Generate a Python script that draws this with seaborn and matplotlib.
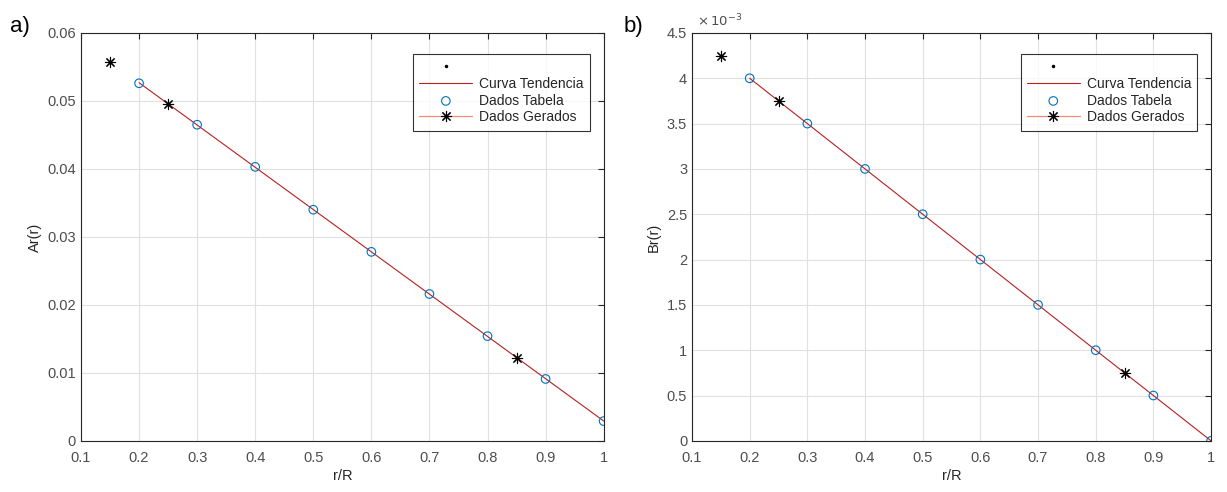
import numpy as np
import pandas as pd
import matplotlib
matplotlib.use("Agg")
import matplotlib.pyplot as plt
import seaborn as sns
from matplotlib.ticker import FuncFormatter, MultipleLocator

# values
r_tab = [0.2, 0.3, 0.4, 0.5, 0.6, 0.7, 0.8, 0.9, 1.0]
ar_tab = [0.0526, 0.0465, 0.0403, 0.0340, 0.0278, 0.0216, 0.0154, 0.0091, 0.0029]
br_tab = [0.0040, 0.0035, 0.0030, 0.0025, 0.0020, 0.0015, 0.0010, 0.0005, 0.0000]
r_gen = [0.15, 0.25, 0.85]
ar_gen = [0.0557, 0.0496, 0.0122]
br_gen = [0.00425, 0.00375, 0.00075]

sns.set_style("white")
plt.rcParams['font.family'] = ['Liberation Sans', 'DejaVu Sans']

blue = (0.0, 0.447, 0.741)
red = (0.72, 0.12, 0.12)
gray = (0.15, 0.15, 0.15)
star = (8, 2, 0)

fig = plt.figure(figsize=(12.27, 4.92), dpi=100)
ax1 = fig.add_axes([0.066, 0.104, 0.426, 0.829])
ax2 = fig.add_axes([0.564, 0.104, 0.423, 0.829])


def draw(ax, y_tab, y_gen, ylabel):
    tab = pd.DataFrame({"r": r_tab, "v": y_tab})
    gen = pd.DataFrame({"r": r_gen, "v": y_gen})
    # trend line through the table points
    c = np.polyfit(tab["r"], tab["v"], 1)
    trend = pd.DataFrame({"r": r_tab, "v": np.polyval(c, r_tab)})
    ax.plot([], [], ".", color="black", markersize=3, label=" ")
    sns.lineplot(data=trend, x="r", y="v", ax=ax, color=red, lw=0.8,
                 label="Curva Tendencia")
    sns.scatterplot(data=tab, x="r", y="v", ax=ax, marker="o", s=38,
                    facecolor="none", edgecolor=blue, linewidth=0.8,
                    label="Dados Tabela", zorder=3)
    sns.scatterplot(data=gen, x="r", y="v", ax=ax, marker=star, s=55,
                    color="black", linewidth=0.8, label="_nolegend_", zorder=4)
    # legend proxy for Dados Gerados (line with star)
    ax.plot([], [], color=(0.95, 0.55, 0.45), lw=0.9, marker=star,
            markersize=8, markeredgecolor="black", markeredgewidth=0.8,
            label="Dados Gerados")
    ax.set_xlim(0.1, 1.0)
    ax.xaxis.set_major_locator(MultipleLocator(0.1))
    ax.xaxis.set_major_formatter(FuncFormatter(lambda v, p: f"{v:g}"))
    ax.set_xlabel("r/R", fontsize=10.5, color=gray, labelpad=3)
    ax.set_ylabel(ylabel, fontsize=10.5, color=gray, labelpad=4)
    ax.grid(True, color=(0.88, 0.88, 0.88), lw=0.8)
    ax.tick_params(direction="in", top=True, right=True, length=4,
                   labelsize=10.5, colors=gray, labelcolor=(0.3, 0.3, 0.3))
    ax.tick_params(axis="x", pad=7)
    for s in ax.spines.values():
        s.set_color(gray)
        s.set_linewidth(0.8)
    leg = ax.legend(loc="upper right", bbox_to_anchor=(0.987, 0.966),
                    fontsize=10, frameon=True, fancybox=False,
                    edgecolor="black", handlelength=3.8, borderpad=0.45,
                    labelspacing=0.2, handletextpad=0.5)
    leg.get_frame().set_linewidth(0.8)


draw(ax1, ar_tab, ar_gen, "Ar(r)")
ax1.set_ylim(0, 0.06)
ax1.yaxis.set_major_locator(MultipleLocator(0.01))
ax1.yaxis.set_major_formatter(FuncFormatter(lambda v, p: f"{v:g}"))

draw(ax2, br_tab, br_gen, "Br(r)")
ax2.set_ylim(0, 0.0045)
ax2.yaxis.set_major_locator(MultipleLocator(0.0005))
ax2.yaxis.set_major_formatter(FuncFormatter(lambda v, p: f"{v * 1e3:g}"))
ax2.text(0.01, 1.01, r"$\times\,10^{-3}$", transform=ax2.transAxes,
         fontsize=9.5, color=(0.3, 0.3, 0.3), ha="left", va="bottom")

fig.text(0.008, 0.935, "a)", fontsize=16, color="black")
fig.text(0.508, 0.935, "b)", fontsize=16, color="black")

fig.savefig("out.png", dpi=100, facecolor="white")
